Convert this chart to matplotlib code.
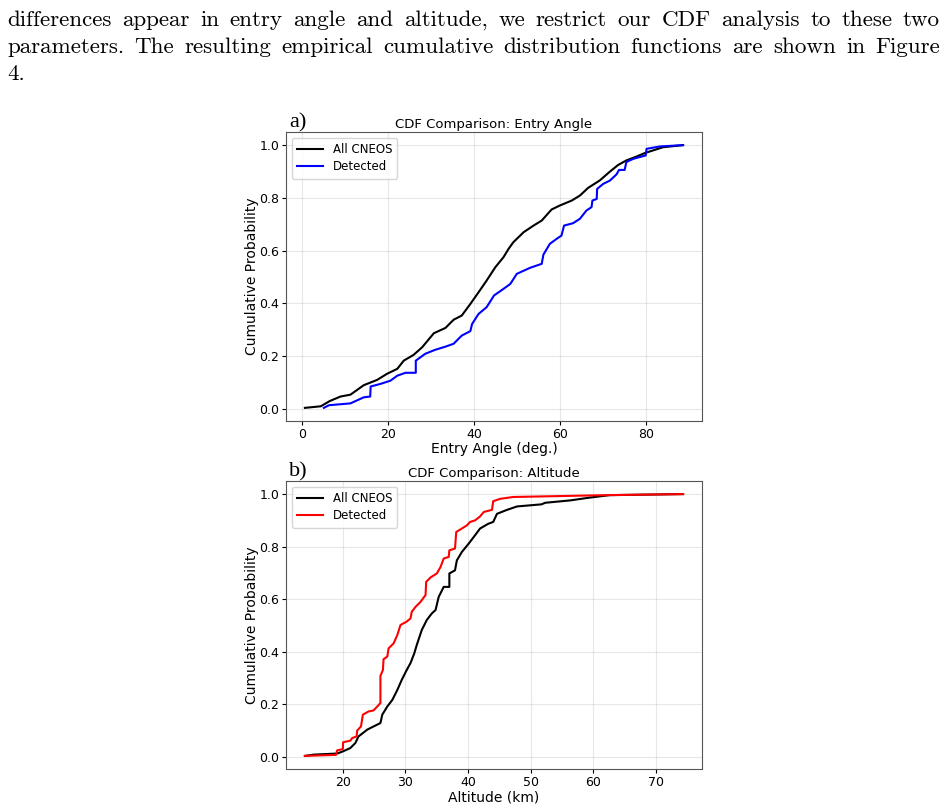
import matplotlib
matplotlib.use("Agg")
import matplotlib.pyplot as plt

# paper text above the figure
text_lines = [
    "differences appear in entry angle and altitude, we restrict our CDF analysis to these two",
    "parameters.  The resulting empirical cumulative distribution functions are shown in Figure",
    "4.",
]

# entry angle CDFs (deg., cumulative probability)
angle_all_x = [0.6, 4.3, 6.4, 8.9, 11.2, 14.3, 17.4, 19.7, 22.1, 23.6, 25.9, 27.9, 30.6,
               33.3, 35.2, 37.1, 39.1, 41.0, 42.9, 44.9, 46.8, 48.0, 49.1, 51.5, 53.8,
               55.7, 58.0, 59.9, 62.7, 64.6, 66.5, 69.2, 71.6, 73.5, 75.4, 77.8, 79.7,
               82.0, 83.9, 88.6]
angle_all_y = [0.004, 0.01, 0.03, 0.047, 0.054, 0.09, 0.11, 0.133, 0.152, 0.183, 0.205,
               0.234, 0.287, 0.307, 0.338, 0.354, 0.398, 0.442, 0.487, 0.537, 0.575,
               0.607, 0.632, 0.670, 0.695, 0.714, 0.756, 0.771, 0.790, 0.809, 0.838,
               0.866, 0.900, 0.925, 0.942, 0.957, 0.970, 0.982, 0.992, 1.0]
angle_det_x = [5.0, 6.2, 11.2, 14.3, 15.8, 15.9, 18.2, 20.5, 22.1, 24.0, 26.4, 26.4, 28.6,
               30.9, 33.3, 35.2, 37.1, 39.1, 39.5, 41.0, 42.9, 44.6, 46.8, 48.4, 49.9,
               53.0, 55.7, 56.1, 57.6, 59.2, 60.3, 60.9, 63.0, 64.6, 66.1, 67.3, 67.5,
               68.5, 68.6, 70.0, 71.6, 73.1, 73.7, 75.0, 75.4, 77.0, 79.9, 80.1, 83.2,
               88.6]
angle_det_y = [0.004, 0.014, 0.021, 0.044, 0.047, 0.085, 0.095, 0.107, 0.126, 0.137,
               0.137, 0.183, 0.209, 0.224, 0.236, 0.247, 0.278, 0.295, 0.322, 0.360,
               0.386, 0.43, 0.455, 0.474, 0.512, 0.535, 0.550, 0.585, 0.626, 0.645,
               0.657, 0.695, 0.704, 0.721, 0.752, 0.765, 0.79, 0.796, 0.834, 0.853,
               0.866, 0.889, 0.906, 0.906, 0.936, 0.948, 0.961, 0.986, 0.995, 1.0]

# altitude CDFs (km, cumulative probability)
alt_all_x = [13.95, 15.4, 19.1, 20.0, 21.2, 22.0, 22.5, 23.9, 24.9, 26.0, 26.3, 27.1,
             27.9, 28.7, 29.4, 30.2, 30.8, 31.4, 31.8, 32.6, 33.4, 34.2, 34.8, 35.3,
             36.1, 37.0, 37.0, 37.9, 38.2, 39.0, 40.1, 40.9, 41.9, 43.2, 44.0, 44.6,
             46.2, 47.8, 51.7, 52.3, 56.3, 59.2, 62.6, 74.3]
alt_all_y = [0.004, 0.009, 0.013, 0.021, 0.034, 0.053, 0.078, 0.104, 0.116, 0.129, 0.161,
             0.192, 0.217, 0.255, 0.293, 0.331, 0.357, 0.394, 0.426, 0.483, 0.521, 0.546,
             0.559, 0.609, 0.647, 0.647, 0.698, 0.71, 0.748, 0.78, 0.812, 0.837, 0.869,
             0.887, 0.894, 0.925, 0.94, 0.953, 0.961, 0.967, 0.976, 0.986, 0.996, 1.0]
alt_det_x = [13.95, 18.9, 19.1, 20.0, 20.05, 21.2, 21.5, 22.2, 22.3, 22.9, 23.2, 24.1,
             24.9, 25.5, 26.0, 26.0, 26.4, 26.5, 27.1, 27.3, 28.1, 28.7, 29.2, 30.2,
             30.8, 31.0, 31.6, 32.4, 33.2, 33.3, 34.0, 35.0, 35.6, 36.1, 36.9, 37.0,
             37.9, 38.1, 39.0, 39.8, 40.3, 41.1, 41.9, 42.5, 43.8, 44.0, 45.1, 47.2,
             62.1, 74.3]
alt_det_y = [0.004, 0.008, 0.025, 0.03, 0.056, 0.062, 0.072, 0.078, 0.101, 0.116, 0.161,
             0.173, 0.177, 0.192, 0.205, 0.308, 0.331, 0.372, 0.382, 0.413, 0.432, 0.464,
             0.502, 0.515, 0.527, 0.552, 0.571, 0.590, 0.616, 0.666, 0.683, 0.698, 0.723,
             0.755, 0.761, 0.786, 0.793, 0.856, 0.869, 0.881, 0.894, 0.9, 0.915, 0.932,
             0.94, 0.973, 0.982, 0.989, 0.996, 1.0]

W, H = 947, 809
fig = plt.figure(figsize=(W / 100, H / 100), dpi=100)
serif = "cmr10"
text_size = 16.6


def justified_line(line, y_px, x0_px, x1_px, stretch=True):
    words = line.split()
    r = fig.canvas.get_renderer()
    ts = [fig.text(0, 1 - y_px / H, w, fontsize=text_size, family=serif,
                   va="baseline") for w in words]
    widths = [t.get_window_extent(r).width for t in ts]
    if stretch and len(words) > 1:
        gap = (x1_px - x0_px - sum(widths)) / (len(words) - 1)
    else:
        gap = text_size * 0.33
    x = x0_px
    for t, w in zip(ts, widths):
        t.set_x(x / W)
        x += w + gap


justified_line(text_lines[0], 26, 7, 940)
justified_line(text_lines[1], 53, 7, 940)
justified_line(text_lines[2], 80, 7, 940, stretch=False)

ax1 = fig.add_axes([286 / W, 1 - 421 / H, 416 / W, 289 / H])
ax2 = fig.add_axes([286 / W, 1 - 769 / H, 416 / W, 288 / H])

ax1.plot(angle_all_x, angle_all_y, color="black", lw=1.5, label="All CNEOS")
ax1.plot(angle_det_x, angle_det_y, color="blue", lw=1.5, label="Detected")
ax1.set_title("CDF Comparison: Entry Angle", fontsize=9.5, pad=3)
ax1.set_xlabel("Entry Angle (deg.)", fontsize=10, labelpad=1)
ax1.set_xticks([0, 20, 40, 60, 80])

ax2.plot(alt_all_x, alt_all_y, color="black", lw=1.5, label="All CNEOS")
ax2.plot(alt_det_x, alt_det_y, color="red", lw=1.5, label="Detected")
ax2.set_title("CDF Comparison: Altitude", fontsize=9.5, pad=3)
ax2.set_xlabel("Altitude (km)", fontsize=10, labelpad=1)
ax2.set_xticks([20, 30, 40, 50, 60, 70])

for ax in (ax1, ax2):
    ax.set_ylabel("Cumulative Probability", fontsize=10, labelpad=0)
    ax.set_yticks([0.0, 0.2, 0.4, 0.6, 0.8, 1.0])
    ax.tick_params(labelsize=9, length=3, pad=2)
    ax.grid(True, alpha=0.3)
    ax.legend(loc="upper left", fontsize=8.5, handlelength=2.2, borderpad=0.45,
              labelspacing=0.35)
    for s in ax.spines.values():
        s.set_color("#555555")

fig.text(289 / W, 1 - 127 / H, "a)", fontsize=16, family="Liberation Serif",
         va="baseline")
fig.text(289 / W, 1 - 476 / H, "b)", fontsize=16, family="Liberation Serif",
         va="baseline")

fig.savefig("out.png", dpi=100)
